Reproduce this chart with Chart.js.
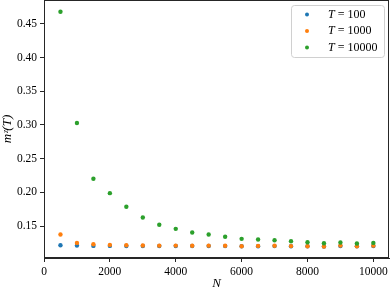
<!DOCTYPE html>
<html>
<head>
<meta charset="utf-8">
<script src="https://cdn.jsdelivr.net/npm/chart.js@4/dist/chart.umd.min.js"></script>
<style>
  html, body { margin: 0; padding: 0; background: #fff; }
  canvas { display: block; }
</style>
</head>
<body>
<canvas id="grafico" width="390" height="291"></canvas>
<script>
const sizes = [500, 1000, 1500, 2000, 2500, 3000, 3500, 4000, 4500, 5000,
               5500, 6000, 6500, 7000, 7500, 8000, 8500, 9000, 9500, 10000]
const m_T100 = [0.1218, 0.1213, 0.1208, 0.1208, 0.1207, 0.1207, 0.1206, 0.1206, 0.1206, 0.1206,
                0.1205, 0.1202, 0.1204, 0.1205, 0.1204, 0.1202, 0.1200, 0.1205, 0.1202, 0.1205]
const m_T1000 = [0.1377, 0.1253, 0.1233, 0.1223, 0.1218, 0.1215, 0.1212, 0.1213, 0.1210, 0.1212,
                 0.1210, 0.1203, 0.1208, 0.1210, 0.1205, 0.1203, 0.1200, 0.1213, 0.1203, 0.1212]
const m_T10000 = [0.4678, 0.3030, 0.2203, 0.1990, 0.1788, 0.1629, 0.1521, 0.1461, 0.1407, 0.1377,
                  0.1343, 0.1313, 0.1303, 0.1292, 0.1278, 0.1263, 0.1248, 0.1258, 0.1243, 0.1253]
const series = [
  { label: 'T = 100', values: m_T100, color: '#1f77b4' },
  { label: 'T = 1000', values: m_T1000, color: '#ff7f0e' },
  { label: 'T = 10000', values: m_T10000, color: '#2ca02c' },
]

const serif = "'Liberation Serif', 'DejaVu Serif', serif"

// marco completo + leyenda estilo matplotlib
const marco = {
  id: 'marco',
  afterDraw(chart) {
    const { ctx, chartArea: a } = chart
    ctx.save()
    ctx.strokeStyle = '#262626'
    ctx.lineWidth = 1
    ctx.strokeRect(Math.round(a.left) + 0.5, Math.round(a.top) + 0.5,
                   Math.round(a.right - a.left) - 1, Math.round(a.bottom - a.top) - 1)

    // leyenda
    const x0 = 291, y0 = 5, w = 93, h = 52
    ctx.fillStyle = 'rgba(255,255,255,0.8)'
    ctx.strokeStyle = '#d0d0d0'
    ctx.beginPath()
    ctx.roundRect(x0 + 0.5, y0 + 0.5, w, h, 3)
    ctx.fill()
    ctx.stroke()
    series.forEach((s, i) => {
      const y = 14.5 + i * 16.5
      ctx.fillStyle = s.color
      ctx.beginPath()
      ctx.arc(307, y, 2, 0, Math.PI * 2)
      ctx.fill()
      ctx.fillStyle = '#000'
      ctx.textBaseline = 'middle'
      ctx.textAlign = 'left'
      ctx.font = 'italic 12px ' + serif
      ctx.fillText('T', 328, y)
      const tw = ctx.measureText('T').width
      ctx.font = '12px ' + serif
      ctx.fillText(s.label.slice(1), 328 + tw, y)
    })
    ctx.restore()
  }
}

const ctx = document.getElementById('grafico').getContext('2d')
const myChart = new Chart(ctx, {
  type: 'scatter',
  data: {
    datasets: series.map((s, i) => ({
      label: s.label,
      data: sizes.map((n, k) => ({ x: n, y: s.values[k] })),
      backgroundColor: s.color,
      borderColor: s.color,
      borderWidth: 0,
      pointRadius: 2.2,
      order: 3 - i
    }))
  },
  options: {
    responsive: false,
    animation: false,
    layout: { autoPadding: false, padding: { top: 0, right: 1, left: 0, bottom: 0 } },
    plugins: { legend: { display: false }, tooltip: { enabled: false } },
    scales: {
      x: {
        type: 'linear',
        min: 0,
        max: 10475,
        afterBuildTicks(axis) {
          axis.ticks = [0, 2000, 4000, 6000, 8000, 10000].map(v => ({ value: v }))
        },
        afterFit(axis) {
          axis.height = 33
          axis.paddingLeft = 0
          axis.paddingRight = 0
        },
        grid: { drawOnChartArea: false, drawTicks: true, tickLength: 4, color: '#262626' },
        border: { color: '#262626' },
        ticks: { color: '#000', padding: 3, maxRotation: 0, font: { family: serif, size: 11.5 },
                 callback: v => String(v) },
        title: { display: true, text: 'N', color: '#000', padding: { top: 0, bottom: 0 },
                 font: { family: serif, size: 13, style: 'italic' } }
      },
      y: {
        type: 'linear',
        min: 0.1029,
        max: 0.4852,
        afterBuildTicks(axis) {
          axis.ticks = [0.15, 0.2, 0.25, 0.3, 0.35, 0.4, 0.45].map(v => ({ value: v }))
        },
        afterFit(axis) {
          axis.width = 44
          axis.paddingTop = 0
          axis.paddingBottom = 0
        },
        grid: { drawOnChartArea: false, drawTicks: true, tickLength: 4, color: '#262626' },
        border: { color: '#262626' },
        ticks: { color: '#000', padding: 3, font: { family: serif, size: 11.5 },
                 callback: v => v.toFixed(2) },
        title: { display: true, text: 'mᶻ(T)', color: '#000', padding: { top: 0, bottom: 0 },
                 font: { family: serif, size: 13, style: 'italic' } }
      }
    }
  },
  plugins: [marco]
})
</script>
</body>
</html>
